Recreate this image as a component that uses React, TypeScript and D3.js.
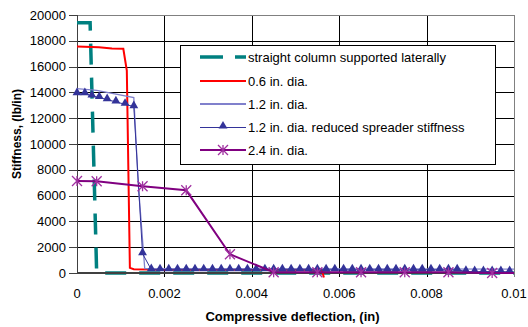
import React from 'react';
import * as d3 from 'd3';

// x in inches, y in lb/in
const xTicks = [0, 0.002, 0.004, 0.006, 0.008, 0.01];
const xTickLabels = ['0', '0.002', '0.004', '0.006', '0.008', '0.01'];
const yTicks = [0, 2000, 4000, 6000, 8000, 10000, 12000, 14000, 16000, 18000, 20000];

const straightColumn: [number, number][] = [
  [0, 19400], [0.0003, 19400], [0.00045, 0], [0.01, 0],
];

const dia06: [number, number][] = [
  [0, 17550], [0.0005, 17500], [0.0008, 17400], [0.00106, 17380], [0.00114, 15700],
  [0.00121, 400], [0.0013, 300], [0.002, 250], [0.004, 250], [0.0056, 250], [0.00565, -350],
];

const dia12: [number, number][] = [
  [0, 14300], [0.00045, 14150], [0.0013, 13600], [0.0014, 7000], [0.00155, 350], [0.01, 300],
];

const dia12Reduced: [number, number][] = [
  [0, 13900], [0.00018, 13900], [0.00034, 13720], [0.00051, 13600], [0.00069, 13440],
  [0.00089, 13260], [0.0011, 13080], [0.0013, 12900], [0.0015, 1500],
  [0.0017, 260], [0.0019, 250], [0.0021, 250], [0.0023, 250], [0.0025, 250], [0.0027, 250],
  [0.0029, 250], [0.0031, 250], [0.0033, 250], [0.0035, 250], [0.0037, 250], [0.0039, 250],
  [0.0041, 250], [0.0043, 250], [0.0045, 250], [0.0047, 250], [0.0049, 250], [0.0051, 250],
  [0.0053, 250], [0.0055, 250], [0.0057, 250], [0.0059, 250], [0.0061, 250], [0.0063, 250],
  [0.0065, 250], [0.0067, 250], [0.0069, 250], [0.0071, 250], [0.0073, 250], [0.0075, 250],
  [0.0077, 250], [0.0079, 250], [0.0081, 250], [0.0083, 250], [0.0085, 250], [0.0087, 250],
  [0.0089, 120], [0.0091, 100], [0.0093, 100], [0.0095, 100], [0.0097, 100], [0.0099, 100],
];

const dia24: [number, number][] = [
  [0, 7130], [0.00045, 7110], [0.0015, 6720], [0.0025, 6410], [0.0035, 1450], [0.0045, 60],
  [0.0055, 60], [0.0065, 60], [0.0075, 60], [0.0085, 60], [0.0095, 0], [0.01, 0],
];

const legendLabels = [
  'straight column supported laterally',
  '0.6 in. dia.',
  '1.2 in. dia.',
  '1.2 in. dia. reduced spreader stiffness',
  '2.4 in. dia.',
];

const width = 528;
const height = 327;
const plot = { left: 77, right: 514, top: 15, bottom: 273 };
const font = 'Liberation Sans, Arial, sans-serif';

const tealColor = '#008080';
const redColor = '#ff0000';
const lightBlue = '#8080cc';
const darkBlue = '#333399';
const purple = '#800080';
const starColor = '#a030a0';

const starPath = (r: number) => `M0,${-r}L0,${r}M${-r},${-r}L${r},${r}M${-r},${r}L${r},${-r}`;

export default function App() {
  const x = d3.scaleLinear().domain([0, 0.01]).range([plot.left, plot.right]);
  const y = d3.scaleLinear().domain([0, 20000]).range([plot.bottom, plot.top]);
  const line = d3.line<[number, number]>().x((d) => x(d[0])).y((d) => y(d[1]));
  const triangle = d3.symbol().type(d3.symbolTriangle).size(34)() || '';

  const legendY = [57, 81, 104, 127, 150];
  // snap hairlines to the pixel grid
  const px = (v: number) => Math.round(v) + 0.5;

  return (
    <svg
      width={width}
      height={height}
      style={{ position: 'absolute', left: 0, top: 0, background: '#fff' }}
      fontFamily={font}
    >
      {/* grid */}
      {yTicks.slice(1, -1).map((t) => (
        <line key={'gy' + t} x1={plot.left} x2={plot.right} y1={px(y(t))} y2={px(y(t))} stroke="#000" strokeWidth={1} />
      ))}
      {xTicks.slice(1, -1).map((t) => (
        <line key={'gx' + t} x1={px(x(t))} x2={px(x(t))} y1={plot.top} y2={plot.bottom + 4} stroke="#000" strokeWidth={1} />
      ))}
      {/* border */}
      <line x1={plot.left} x2={plot.right} y1={px(plot.top)} y2={px(plot.top)} stroke="#808080" />
      <line x1={px(plot.right)} x2={px(plot.right)} y1={plot.top} y2={plot.bottom + 4} stroke="#808080" />
      <line x1={px(plot.left)} x2={px(plot.left)} y1={plot.top} y2={plot.bottom} stroke="#404040" strokeWidth={1} />
      {yTicks.map((t) => (
        <line key={'ty' + t} x1={plot.left - 8} x2={plot.left} y1={px(y(t))} y2={px(y(t))} stroke="#404040" />
      ))}

      {/* series */}
      <path d={line(straightColumn) || ''} fill="none" stroke={tealColor} strokeWidth={3.5} strokeDasharray="21,13" />
      <line x1={plot.left} x2={plot.right} y1={plot.bottom} y2={plot.bottom} stroke="#404040" strokeWidth={2} />
      <path d={line(dia06) || ''} fill="none" stroke={redColor} strokeWidth={2} />
      <path d={line(dia12) || ''} fill="none" stroke={lightBlue} strokeWidth={1.3} />
      <path d={line(dia12Reduced) || ''} fill="none" stroke={darkBlue} strokeWidth={1} />
      {dia12Reduced.map((d, i) => (
        <path key={'tr' + i} d={triangle} transform={`translate(${x(d[0])},${y(d[1]) - 1})`} fill={darkBlue} />
      ))}
      <path d={line(dia24) || ''} fill="none" stroke={purple} strokeWidth={2} />
      {dia24.filter((d) => d[0] < 0.01).map((d, i) => (
        <path key={'st' + i} d={starPath(5)} transform={`translate(${x(d[0])},${y(d[1])})`} fill="none" stroke={starColor} strokeWidth={1.3} />
      ))}

      {/* axis labels */}
      {yTicks.map((t) => (
        <text key={'ly' + t} x={66} y={y(t)} dy="0.36em" textAnchor="end" fontSize={13} fill="#000">
          {t}
        </text>
      ))}
      {xTicks.map((t, i) => (
        <text key={'lx' + t} x={x(t)} y={297.5} textAnchor="middle" fontSize={13} fill="#000">
          {xTickLabels[i]}
        </text>
      ))}
      <text x={(plot.left + plot.right) / 2 - 3} y={321} textAnchor="middle" fontSize={13} fontWeight="bold" fill="#000">
        Compressive deflection, (in)
      </text>
      <text
        transform={`translate(21,134) rotate(-90)`}
        textAnchor="middle"
        fontSize={12}
        fontWeight="bold"
        fill="#000"
      >
        Stiffness, (lb/in)
      </text>

      {/* legend */}
      <rect x={180.5} y={45.5} width={315} height={119} fill="#fff" stroke="#000" strokeWidth={1} />
      <line x1={200} x2={246} y1={legendY[0]} y2={legendY[0]} stroke={tealColor} strokeWidth={3.5} strokeDasharray="23,12" />
      <line x1={200} x2={246} y1={legendY[1]} y2={legendY[1]} stroke={redColor} strokeWidth={2} />
      <line x1={200} x2={246} y1={legendY[2]} y2={legendY[2]} stroke={lightBlue} strokeWidth={2} />
      <line x1={200} x2={246} y1={legendY[3] + 0.5} y2={legendY[3] + 0.5} stroke={darkBlue} strokeWidth={1} />
      <path d={triangle} transform={`translate(223,${legendY[3] - 1})`} fill={darkBlue} />
      <line x1={200} x2={246} y1={legendY[4]} y2={legendY[4]} stroke={purple} strokeWidth={2} />
      <path d={starPath(5)} transform={`translate(223,${legendY[4]})`} fill="none" stroke={starColor} strokeWidth={1.3} />
      {legendLabels.map((label, i) => (
        <text key={label} x={248} y={legendY[i]} dy="0.36em" fontSize={13} fill="#000">
          {label}
        </text>
      ))}
    </svg>
  );
}
